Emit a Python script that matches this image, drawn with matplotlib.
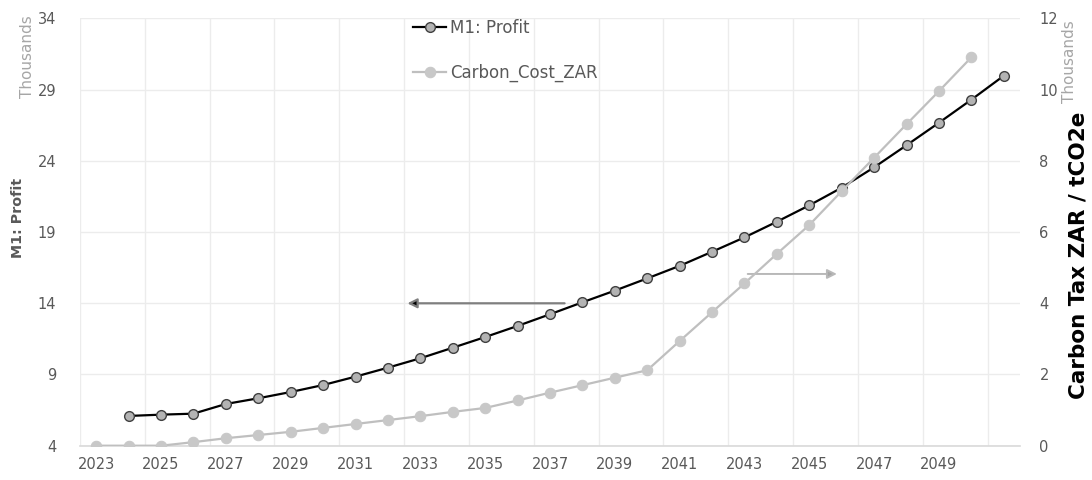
import matplotlib
matplotlib.use("Agg")
import matplotlib.pyplot as plt
from matplotlib.ticker import FixedLocator, FuncFormatter

plt.rcParams['font.family'] = ['DejaVu Sans']

# ---- data ----
profit_years = list(range(2024, 2052))
profit = [6090, 6180, 6250, 6930, 7330, 7770, 8260, 8850, 9480, 10140,
          10880, 11630, 12410, 13230, 14070, 14890, 15750, 16630, 17620, 18630,
          19730, 20880, 22120, 23550, 25100, 26680, 28300, 29980]

carbon_years = list(range(2023, 2051))
carbon = [0, 0, 0, 100, 210, 300, 390, 500, 610, 720,
          830, 950, 1060, 1270, 1490, 1700, 1910, 2120, 2940, 3750,
          4560, 5390, 6200, 7150, 8090, 9030, 9960, 10910]

xtick_years = list(range(2023, 2050, 2))
left_ticks = [4000, 9000, 14000, 19000, 24000, 29000, 34000]
right_ticks = [0, 2000, 4000, 6000, 8000, 10000, 12000]

TICK_C = '#595959'
GRID_C = '#ececec'

fig = plt.figure(figsize=(10.92, 4.8), dpi=100)
ax = fig.add_axes([80/1092, 1-445.7/480, 940/1092, (445.7-18.5)/480])
ax2 = ax.twinx()

ax.plot(profit_years, profit, color='black', lw=1.6, marker='o', ms=7,
        mfc='#b3b3b3', mec='#404040', mew=1.0, label='M1: Profit', zorder=3)
ax2.plot(carbon_years, carbon, color='#bfbfbf', lw=1.6, marker='o', ms=7.5,
         mfc='#c8c8c8', mec='#c8c8c8', mew=0.8, label='Carbon_Cost_ZAR', zorder=3)

ax.set_xlim(2022.5, 2051.5)
ax.set_ylim(4000, 34000)
ax2.set_ylim(0, 12000)

ax.xaxis.set_major_locator(FixedLocator(xtick_years))
ax.xaxis.set_minor_locator(FixedLocator([y + 0.5 for y in range(2022, 2051, 2)]))
ax.yaxis.set_major_locator(FixedLocator(left_ticks))
ax2.yaxis.set_major_locator(FixedLocator(right_ticks))
ax.yaxis.set_major_formatter(FuncFormatter(lambda v, p: f"{v/1000:g}"))
ax2.yaxis.set_major_formatter(FuncFormatter(lambda v, p: f"{v/1000:g}"))

ax.grid(True, which='minor', axis='x', color=GRID_C, lw=1)
ax.grid(True, which='major', axis='y', color=GRID_C, lw=1)
ax.set_axisbelow(True)

for a in (ax, ax2):
    for s in a.spines.values():
        s.set_visible(False)
ax.spines['bottom'].set_visible(True)
ax.spines['bottom'].set_color('#d9d9d9')
ax.spines['bottom'].set_linewidth(1.2)

ax.tick_params(axis='x', which='both', length=0, pad=8, labelsize=10.5, labelcolor=TICK_C)
ax.tick_params(axis='y', length=0, pad=17, labelsize=10.5, labelcolor=TICK_C)
ax2.tick_params(axis='y', length=0, pad=14, labelsize=10.5, labelcolor=TICK_C)

# axis titles
fig.text(18/1092, 1-218/480, 'M1: Profit', rotation=90, ha='center', va='center',
         fontsize=10.3, fontweight='bold', color=TICK_C)
fig.text(28/1092, 1-57/480, 'Thousands', rotation=90, ha='center', va='center',
         fontsize=11, color='#a6a6a6')
fig.text(1070/1092, 1-62/480, 'Thousands', rotation=90, ha='center', va='center',
         fontsize=11, color='#a6a6a6')
fig.text(1078/1092, 1-255/480, 'Carbon Tax ZAR / tCO2e', rotation=90, ha='center',
         va='center', fontsize=15.5, fontweight='bold', color='black')

# legend
h1, l1 = ax.get_legend_handles_labels()
h2, l2 = ax2.get_legend_handles_labels()
leg = ax2.legend(h1 + h2, l1 + l2, loc='upper left',
                 bbox_to_anchor=(413/1092, 1-19/480), bbox_transform=fig.transFigure,
                 frameon=False, fontsize=12, labelspacing=1.6, handlelength=2.0,
                 handletextpad=0.25, borderpad=0, borderaxespad=0)
for t in leg.get_texts():
    t.set_color(TICK_C)

# direction arrows
ax.annotate('', xy=(2032.6, 14000), xytext=(2037.45, 14000),
            arrowprops=dict(arrowstyle='-|>', color='#7f7f7f', fc='black', lw=1.6,
                            mutation_scale=14, shrinkA=0, shrinkB=0))
ax.annotate('', xy=(2045.85, 16060), xytext=(2043.1, 16060),
            arrowprops=dict(arrowstyle='-|>', color='#b8b8b8', fc='#a6a6a6', lw=1.4,
                            mutation_scale=14, shrinkA=0, shrinkB=0))

fig.savefig('out.png', dpi=100)
